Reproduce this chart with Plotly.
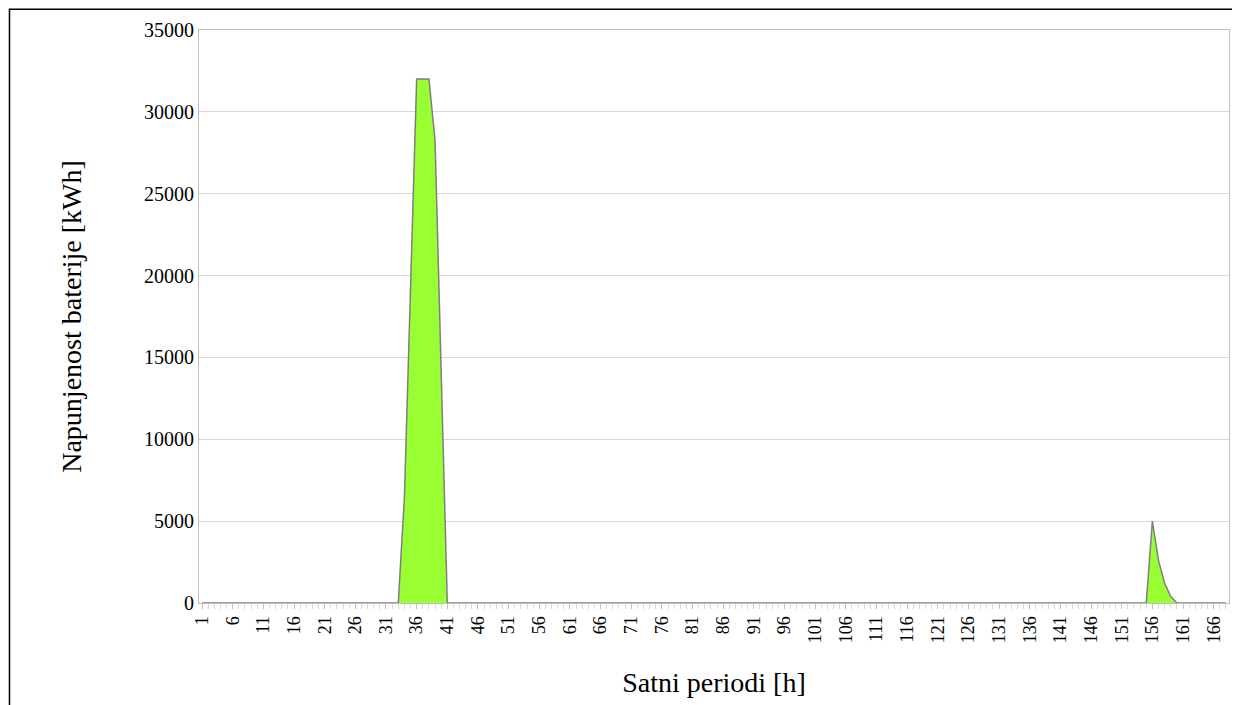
import plotly.graph_objects as go

hours = list(range(1, 169))
charge = {34: 6450, 35: 19200, 36: 32000, 37: 32000, 38: 32000, 39: 28300, 40: 14000,
          156: 5000, 157: 2600, 158: 1200, 159: 400}
values = [charge.get(h, 0) for h in hours]

font = "Liberation Serif, Times New Roman, serif"

fig = go.Figure()
fig.add_trace(go.Scatter(x=hours, y=values, mode="lines", fill="tozeroy",
                         fillcolor="#99FF33", line=dict(color="#7f7f7f", width=1.5)))

fig.update_layout(
    width=1240, height=705, showlegend=False,
    paper_bgcolor="white", plot_bgcolor="white",
    margin=dict(l=191, r=19, t=22, b=110),
    font=dict(family=font, color="black"),
    shapes=[dict(type="rect", xref="paper", yref="paper", x0=-0.184, x1=1.006, y0=-0.4, y1=1.036,
                 line=dict(color="black", width=1.5))],
)
fig.update_xaxes(range=[0.5, 168.5], tickmode="linear", tick0=1, dtick=5, tickangle=-90,
                 tickfont=dict(size=18), showgrid=False, showline=True, linecolor="#bfbfbf",
                 mirror=True, ticks="outside", ticklen=5, tickcolor="#bfbfbf",
                 minor=dict(dtick=1, tick0=1, ticks="outside", ticklen=5, tickcolor="#d9d9d9"),
                 title=dict(text="Satni periodi [h]", font=dict(size=28), standoff=30))
fig.update_yaxes(range=[0, 35000], dtick=5000, tickformat="d", tickfont=dict(size=20), showgrid=True,
                 gridcolor="#d9d9d9", showline=True, linecolor="#bfbfbf", mirror=True,
                 zeroline=False, ticks="", title=dict(text="Napunjenost baterije [kWh]",
                 font=dict(size=28), standoff=54))

fig.write_html("out.html")
